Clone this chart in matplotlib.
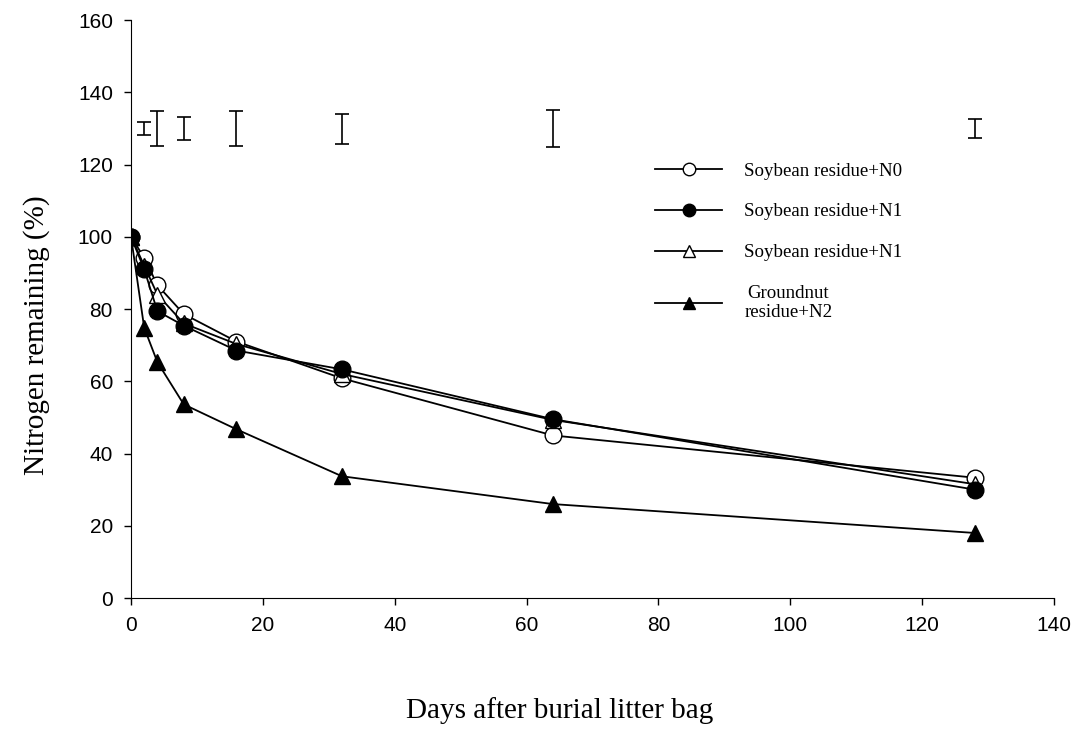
import matplotlib
matplotlib.use("Agg")
import matplotlib.pyplot as plt

# days after burial
days = [0, 2, 4, 8, 16, 32, 64, 128]

# nitrogen remaining (%)
soy_n0 = [100, 94.2, 86.6, 78.6, 71.0, 60.8, 45.0, 33.3]
soy_n1 = [100, 91.0, 79.4, 75.4, 68.5, 63.3, 49.5, 30.0]
soy_n1b = [100, 92.0, 84.0, 76.0, 70.3, 62.0, 49.3, 31.5]
gnut_n2 = [100, 74.8, 65.3, 53.6, 46.7, 33.7, 26.0, 18.0]

# LSD bars drawn above the curves
lsd_x = [2, 4, 8, 16, 32, 64, 128]
lsd_lo = [128.2, 125.1, 126.8, 125.1, 125.8, 124.8, 127.4]
lsd_hi = [131.9, 134.9, 133.1, 134.7, 134.1, 135.1, 132.6]

labels = ["Soybean residue+N0", "Soybean residue+N1", "Soybean residue+N1",
          "Groundnut\nresidue+N2"]

fig = plt.figure(figsize=(10.81, 7.36), dpi=100)
ax = fig.add_axes([0.1212, 0.1875, 0.8538, 0.7853])

ms = 12
lw = 1.3
ax.plot(days, soy_n0, color="black", lw=lw, marker="o", ms=ms,
        mfc="white", mec="black", label=labels[0])
ax.plot(days, soy_n1b, color="black", lw=lw, marker="^", ms=ms,
        mfc="white", mec="black", label=labels[2])
ax.plot(days, soy_n1, color="black", lw=lw, marker="o", ms=ms,
        mfc="black", mec="black", label=labels[1])
ax.plot(days, gnut_n2, color="black", lw=lw, marker="^", ms=ms,
        mfc="black", mec="black", label=labels[3])

mid = [(a + b) / 2 for a, b in zip(lsd_lo, lsd_hi)]
half = [(b - a) / 2 for a, b in zip(lsd_lo, lsd_hi)]
ax.errorbar(lsd_x, mid, yerr=half, fmt="none", ecolor="black",
            elinewidth=1.2, capsize=5, capthick=1.2)

ax.set_xlim(0, 140)
ax.set_ylim(0, 160)
ax.set_xticks(range(0, 141, 20))
ax.set_yticks(range(0, 161, 20))
ax.spines["top"].set_visible(False)
ax.spines["right"].set_visible(False)
ax.tick_params(direction="out", length=5, width=1, labelsize=15, pad=8)
for t in ax.get_xticklabels() + ax.get_yticklabels():
    t.set_fontfamily("Liberation Sans")

# legend in the original order
h, l = ax.get_legend_handles_labels()
order = [0, 2, 1, 3]
leg = ax.legend([h[i] for i in order], [l[i] for i in order],
                loc="upper left", bbox_to_anchor=(0.558, 0.77),
                frameon=False, handlelength=3.5, labelspacing=1.25,
                handletextpad=1.2, borderpad=0, markerscale=0.75,
                prop={"family": "Liberation Serif", "size": 13.6})
leg.get_texts()[3].set_multialignment("center")

fig.text(0.518, 0.035, "Days after burial litter bag", ha="center",
         va="center", family="Liberation Serif", fontsize=21)
fig.text(0.034, 0.545, "Nitrogen remaining (%)", ha="center", va="center",
         rotation=90, family="Liberation Serif", fontsize=21)

fig.savefig("out.png", dpi=100)
